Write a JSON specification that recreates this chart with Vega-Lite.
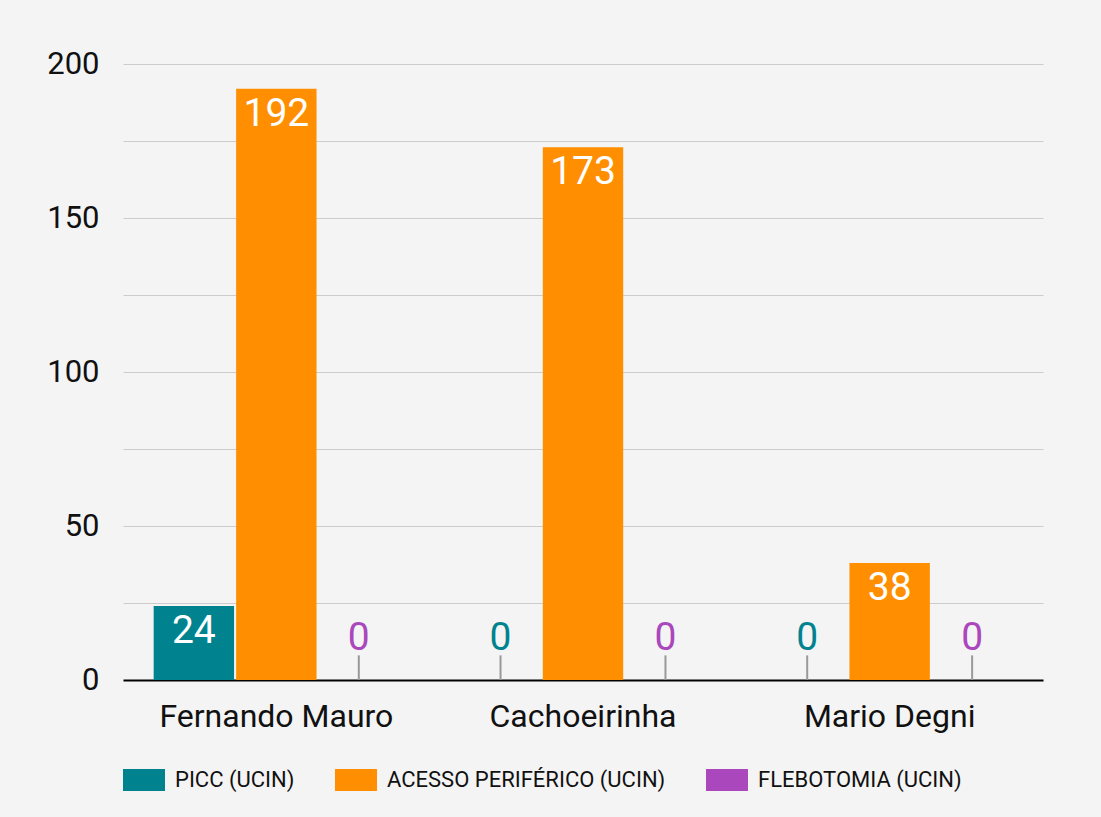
{
  "$schema": "https://vega.github.io/schema/vega-lite/v6.json",
  "width": 920,
  "height": 616,
  "autosize": "none",
  "padding": {"left": 123, "top": 64, "right": 58, "bottom": 137},
  "background": "#f4f4f4",
  "config": {"view": {"stroke": null}, "font": "Roboto"},
  "data": {"values": [
    {"site": "Fernando Mauro", "series": "PICC (UCIN)", "value": 24},
    {"site": "Fernando Mauro", "series": "ACESSO PERIFÉRICO (UCIN)", "value": 192},
    {"site": "Fernando Mauro", "series": "FLEBOTOMIA (UCIN)", "value": 0},
    {"site": "Cachoeirinha", "series": "PICC (UCIN)", "value": 0},
    {"site": "Cachoeirinha", "series": "ACESSO PERIFÉRICO (UCIN)", "value": 173},
    {"site": "Cachoeirinha", "series": "FLEBOTOMIA (UCIN)", "value": 0},
    {"site": "Mario Degni", "series": "PICC (UCIN)", "value": 0},
    {"site": "Mario Degni", "series": "ACESSO PERIFÉRICO (UCIN)", "value": 38},
    {"site": "Mario Degni", "series": "FLEBOTOMIA (UCIN)", "value": 0}
  ]},
  "encoding": {
    "x": {
      "field": "site", "type": "nominal",
      "sort": ["Fernando Mauro", "Cachoeirinha", "Mario Degni"],
      "scale": {"paddingInner": 0.2, "paddingOuter": 0.1},
      "axis": {"title": null, "labelAngle": 0, "labelFontSize": 32, "labelLimit": 400, "labelColor": "#111", "labelPadding": 21, "ticks": false, "domainColor": "#000", "domainWidth": 2, "grid": false}
    },
    "xOffset": {
      "field": "series", "type": "nominal",
      "sort": ["PICC (UCIN)", "ACESSO PERIFÉRICO (UCIN)", "FLEBOTOMIA (UCIN)"],
      "scale": {"paddingInner": 0.025, "paddingOuter": 0}
    }
  },
  "layer": [
    {
      "mark": {"type": "bar"},
      "encoding": {
        "y": {
          "field": "value", "type": "quantitative",
          "scale": {"domain": [0, 200], "nice": false},
          "axis": {"title": null, "values": [0, 25, 50, 75, 100, 125, 150, 175, 200], "labelExpr": "datum.value % 50 == 0 ? datum.label : ''", "labelFontSize": 31, "labelColor": "#111", "labelPadding": 24, "ticks": false, "domain": false, "gridColor": "#cccccc", "gridWidth": 1}
        },
        "color": {
          "field": "series", "type": "nominal",
          "sort": ["PICC (UCIN)", "ACESSO PERIFÉRICO (UCIN)", "FLEBOTOMIA (UCIN)"],
          "scale": {"domain": ["PICC (UCIN)", "ACESSO PERIFÉRICO (UCIN)", "FLEBOTOMIA (UCIN)"], "range": ["#00838f", "#ff8f00", "#ab47bc"]},
          "legend": {"title": null, "orient": "bottom", "direction": "horizontal", "labelFontSize": 22, "labelLimit": 400, "labelColor": "#111", "symbolType": "M-1,-0.52L1,-0.52L1,0.52L-1,0.52Z", "symbolSize": 1764, "symbolStrokeWidth": 0, "symbolOpacity": 1, "columnPadding": 40, "labelOffset": 10, "offset": 27}
        }
      }
    },
    {
      "transform": [{"filter": "datum.value > 0"}],
      "mark": {"type": "text", "baseline": "top", "dy": 6, "fontSize": 39, "color": "#ffffff"},
      "encoding": {
        "y": {"field": "value", "type": "quantitative"},
        "text": {"field": "value", "type": "quantitative"}
      }
    },
    {
      "transform": [{"filter": "datum.value == 0"}],
      "mark": {"type": "rule", "color": "#999999", "strokeWidth": 2},
      "encoding": {
        "y": {"datum": 0},
        "y2": {"datum": 8}
      }
    },
    {
      "transform": [{"filter": "datum.value == 0"}],
      "mark": {"type": "text", "baseline": "alphabetic", "dy": -5, "fontSize": 39},
      "encoding": {
        "y": {"datum": 8},
        "text": {"field": "value", "type": "quantitative"},
        "color": {"field": "series", "type": "nominal", "legend": null}
      }
    }
  ]
}
